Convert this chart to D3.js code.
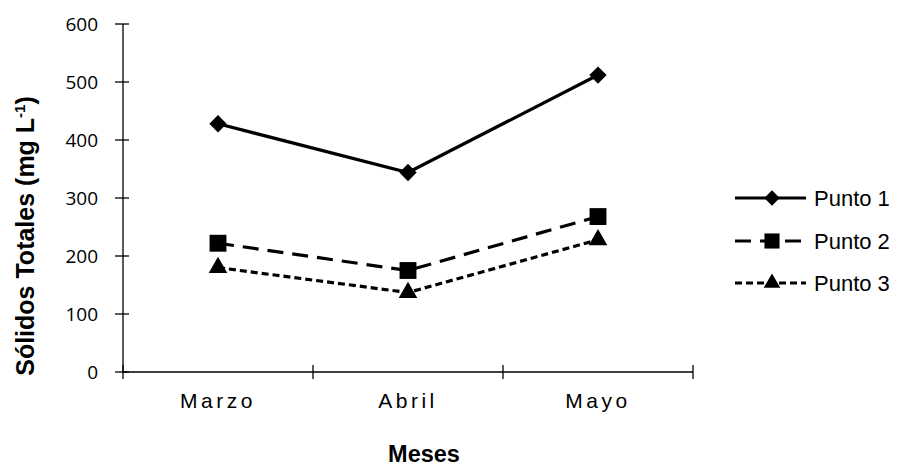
<!DOCTYPE html>
<html>
<head>
<meta charset="utf-8">
<script src="https://cdn.jsdelivr.net/npm/d3@7"></script>
<style>
  html, body { margin: 0; padding: 0; background: #fff; }
  svg { display: block; }
</style>
</head>
<body>
<svg id="chart" width="897" height="468"></svg>
<script>
const months = ["Marzo", "Abril", "Mayo"];
const punto1 = [428, 344, 512];
const punto2 = [222, 175, 268];
const punto3 = [180, 137, 228];
const yTicks = [0, 100, 200, 300, 400, 500, 600];
const seriesNames = ["Punto 1", "Punto 2", "Punto 3"];

const series = [
  { name: seriesNames[0], values: punto1, dash: null, symbol: d3.symbolSquare, size: 150, rotate: 45 },
  { name: seriesNames[1], values: punto2, dash: "16,9", symbol: d3.symbolSquare, size: 285, rotate: 0 },
  { name: seriesNames[2], values: punto3, dash: "7,4", symbol: d3.symbolTriangle, size: 150, rotate: 0 }
];

const svg = d3.select("#chart");
const plotLeft = 123, plotRight = 693, plotTop = 24, plotBottom = 372;

const x = d3.scaleBand().domain(months).range([plotLeft, plotRight]);
const y = d3.scaleLinear().domain([0, 600]).range([plotBottom, plotTop]);

// Axes with ticks crossing the axis lines
const axisG = svg.append("g").attr("stroke", "#000").attr("stroke-width", 1.3);
axisG.append("line").attr("x1", plotLeft).attr("x2", plotLeft).attr("y1", plotTop).attr("y2", plotBottom);
axisG.append("line").attr("x1", plotLeft).attr("x2", plotRight).attr("y1", plotBottom).attr("y2", plotBottom);
axisG.selectAll(".yt").data(yTicks).join("line")
  .attr("x1", plotLeft - 8).attr("x2", plotLeft + 6)
  .attr("y1", d => y(d)).attr("y2", d => y(d));
const xTickPos = months.map(m => x(m)).concat([plotRight]);
axisG.selectAll(".xt").data(xTickPos).join("line")
  .attr("x1", d => d).attr("x2", d => d)
  .attr("y1", plotBottom - 7).attr("y2", plotBottom + 7);

svg.append("g").selectAll("text").data(yTicks).join("text")
  .attr("x", plotLeft - 25).attr("y", d => y(d)).attr("dy", "0.36em")
  .attr("text-anchor", "end")
  .attr("font-family", "'Open Sans', 'Liberation Sans', sans-serif")
  .attr("font-size", 19).attr("fill", "#000")
  .text(d => d);

svg.append("g").selectAll("text").data(months).join("text")
  .attr("x", d => x(d) + x.bandwidth() / 2).attr("y", 408)
  .attr("text-anchor", "middle")
  .attr("font-family", "'Liberation Sans', Arial, sans-serif")
  .attr("font-size", 21).attr("letter-spacing", "3.5px").attr("fill", "#000")
  .text(d => d);

// Axis titles
svg.append("text")
  .attr("x", 424).attr("y", 462).attr("text-anchor", "middle")
  .attr("font-family", "'Liberation Sans', Arial, sans-serif")
  .attr("font-size", 23.5).attr("font-weight", "bold")
  .text("Meses");

const yt = svg.append("text")
  .attr("transform", "translate(34,236) rotate(-90)")
  .attr("text-anchor", "middle")
  .attr("font-family", "'Liberation Sans', Arial, sans-serif")
  .attr("font-size", 25).attr("font-weight", "bold");
yt.append("tspan").text("Sólidos Totales (mg L");
yt.append("tspan").attr("dy", -9).attr("font-size", 15).text("-1");
yt.append("tspan").attr("dy", 9).text(")");

// Series lines and markers
const line = d3.line().x((d, i) => x(months[i]) + x.bandwidth() / 2).y(d => y(d));
series.forEach(s => {
  svg.append("path").datum(s.values)
    .attr("d", line).attr("fill", "none").attr("stroke", "#000")
    .attr("stroke-width", 3.2).attr("stroke-dasharray", s.dash);
  svg.append("g").selectAll("path").data(s.values).join("path")
    .attr("transform", (d, i) => `translate(${x(months[i]) + x.bandwidth() / 2},${y(d)}) rotate(${s.rotate})`)
    .attr("d", d3.symbol().type(s.symbol).size(s.size)).attr("fill", "#000");
});

// Legend
const legendY = [198, 241, 283];
const lg = svg.append("g");
series.forEach((s, i) => {
  const g = lg.append("g").attr("transform", `translate(0,${legendY[i]})`);
  g.append("line").attr("x1", 735).attr("x2", 806).attr("y1", 0).attr("y2", 0)
    .attr("stroke", "#000").attr("stroke-width", 3.2).attr("stroke-dasharray", s.dash);
  g.append("path").attr("transform", `translate(772,0) rotate(${s.rotate})`)
    .attr("d", d3.symbol().type(s.symbol).size(s.size * 0.8)).attr("fill", "#000");
  g.append("text").attr("x", 814).attr("y", 0).attr("dy", "0.36em")
    .attr("font-family", "'Liberation Sans', Arial, sans-serif")
    .attr("font-size", 22).text(s.name);
});
</script>
</body>
</html>
